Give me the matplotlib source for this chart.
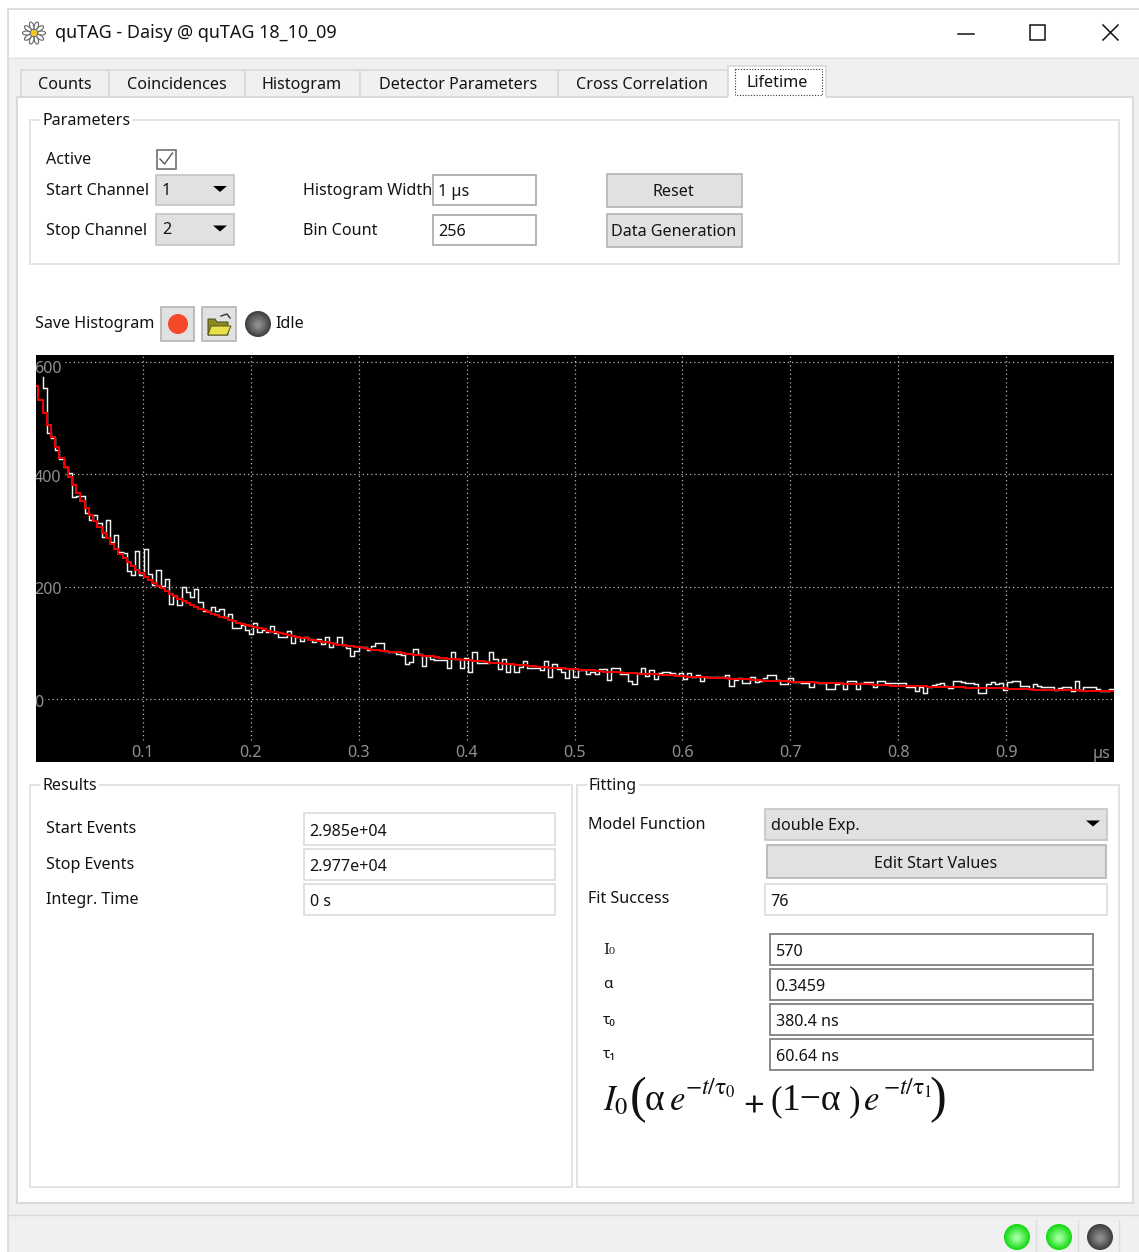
#!/usr/bin/env python3
# Lifetime tab of the quTAG window, redrawn in pixel coordinates
import numpy as np
import matplotlib
matplotlib.use('Agg')
import matplotlib.pyplot as plt
from matplotlib.patches import Rectangle, Circle, Polygon, Ellipse

W, H = 1139, 1252
UI_FONT = 'Noto Sans'
TEXT = '#141414'

# Data
# --------------
hist_counts = [
    574, 574, 553, 473, 464, 444, 428, 413, 403, 360, 362, 362, 332, 318, 328, 313,
    289, 319, 280, 293, 261, 260, 228, 221, 264, 221, 267, 222, 203, 230, 202, 213,
    170, 183, 167, 200, 190, 181, 196, 173, 157, 157, 164, 157, 161, 146, 152, 127,
    127, 132, 123, 116, 136, 120, 123, 120, 131, 117, 111, 110, 122, 99, 110, 104,
    110, 107, 101, 107, 98, 111, 93, 99, 111, 96, 91, 77, 86, 93, 93, 88,
    94, 99, 99, 85, 84, 83, 80, 78, 62, 66, 90, 80, 59, 76, 72, 69,
    69, 69, 56, 83, 71, 56, 74, 49, 83, 65, 65, 65, 83, 71, 53, 71,
    49, 62, 49, 58, 68, 55, 55, 55, 52, 68, 40, 62, 53, 49, 37, 53,
    39, 52, 52, 44, 49, 44, 53, 53, 34, 56, 56, 44, 44, 32, 26, 46,
    56, 41, 52, 35, 46, 48, 49, 47, 43, 46, 35, 46, 40, 43, 33, 39,
    39, 39, 39, 40, 43, 23, 34, 38, 29, 29, 39, 31, 33, 37, 42, 42,
    34, 27, 27, 37, 30, 30, 28, 28, 22, 30, 28, 28, 18, 18, 27, 28,
    18, 33, 33, 18, 28, 30, 30, 22, 33, 33, 28, 28, 28, 28, 28, 22,
    22, 15, 21, 10, 21, 25, 27, 28, 24, 19, 33, 33, 30, 28, 28, 26,
    10, 10, 26, 30, 27, 28, 16, 30, 33, 33, 24, 23, 18, 26, 24, 21,
    21, 21, 16, 19, 22, 22, 15, 33, 16, 22, 22, 21, 18, 15, 15, 18,
]
fit_counts = [
    557, 533, 510, 488, 467, 448, 430, 413, 396, 381, 367, 353, 340, 328, 317, 306,
    295, 286, 276, 268, 259, 252, 244, 237, 230, 224, 218, 212, 207, 201, 197, 192,
    187, 183, 179, 175, 171, 168, 164, 161, 158, 155, 152, 149, 146, 144, 141, 139,
    136, 134, 132, 130, 128, 126, 124, 122, 120, 119, 117, 115, 114, 112, 111, 109,
    108, 106, 105, 103, 102, 101, 100, 98, 97, 96, 95, 94, 93, 92, 91, 89,
    88, 87, 86, 85, 84, 83, 83, 82, 81, 80, 79, 78, 77, 76, 76, 75,
    74, 73, 72, 72, 71, 70, 69, 69, 68, 67, 67, 66, 65, 64, 64, 63,
    62, 62, 61, 60, 60, 59, 59, 58, 57, 57, 56, 56, 55, 55, 54, 53,
    53, 52, 52, 51, 51, 50, 50, 49, 49, 48, 48, 47, 47, 46, 46, 45,
    45, 44, 44, 44, 43, 43, 42, 42, 41, 41, 41, 40, 40, 39, 39, 39,
    38, 38, 37, 37, 37, 36, 36, 36, 35, 35, 34, 34, 34, 33, 33, 33,
    32, 32, 32, 31, 31, 31, 30, 30, 30, 29, 29, 29, 29, 28, 28, 28,
    27, 27, 27, 27, 26, 26, 26, 25, 25, 25, 25, 24, 24, 24, 24, 23,
    23, 23, 23, 23, 22, 22, 22, 22, 21, 21, 21, 21, 21, 20, 20, 20,
    20, 20, 19, 19, 19, 19, 19, 18, 18, 18, 18, 18, 18, 17, 17, 17,
    17, 17, 17, 16, 16, 16, 16, 16, 15, 15, 15, 15, 15, 15, 14, 14,
]
x_ticks = [0.1, 0.2, 0.3, 0.4, 0.5, 0.6, 0.7, 0.8, 0.9]
y_ticks = [0, 200, 400, 600]
tab_names = ['Counts', 'Coincidences', 'Histogram', 'Detector Parameters', 'Cross Correlation']
tab_edges = [21, 109, 245, 360, 558, 728]


# Helpers
# --------------
fig = plt.figure(figsize=(W / 100, H / 100), dpi=100, facecolor='white')
ui = fig.add_axes([0, 0, 1, 1])
ui.set_xlim(0, W)
ui.set_ylim(H, 0)
ui.axis('off')


def box(x0, y0, x1, y1, fc='white', ec='#dcdcdc', lw=1.0, **kw):
    ui.add_patch(Rectangle((x0, y0), x1 - x0, y1 - y0, fc=fc, ec=ec, lw=lw, **kw))


def label(x, y, s, ha='left', size=11.6, color=TEXT, family=UI_FONT, **kw):
    ui.text(x, y + 2, s, ha=ha, va='center', fontsize=size, color=color, family=family, **kw)


def group(x0, y0, x1, y1, title):
    box(x0, y0, x1, y1, fc='none', ec='#e3e3e3', lw=1.4)
    label(x0 + 12, y0 - 1, title, bbox=dict(fc='white', ec='none', pad=1.5))


def field(x0, y0, x1, y1, s, ec='#a8a8a8', lw=1.2):
    box(x0, y0, x1, y1, fc='white', ec=ec, lw=lw)
    label(x0 + 5.5, (y0 + y1) / 2 + 0.5, s)


def combo(x0, y0, x1, y1, s):
    box(x0, y0, x1, y1, fc='#e1e1e1', ec='#c4c4c4', lw=1.2)
    label(x0 + 6, (y0 + y1) / 2 - 1, s)
    ax_ = x1 - 14
    ay_ = (y0 + y1) / 2 - 1
    ui.add_patch(Polygon([(ax_ - 7, ay_ - 3), (ax_ + 7, ay_ - 3), (ax_, ay_ + 3)], fc='black', ec='none'))


def button(x0, y0, x1, y1, s=''):
    box(x0, y0, x1, y1, fc='#e1e1e1', ec='#b4b4b4', lw=1.2)
    if s:
        label((x0 + x1) / 2 - 1, (y0 + y1) / 2, s, ha='center')


def led(x, y, r, outer, inner):
    # shaded round lamp, built from stacked discs
    c0 = np.array(matplotlib.colors.to_rgb(outer))
    c1 = np.array(matplotlib.colors.to_rgb(inner))
    for k in np.linspace(0, 1, 14):
        ui.add_patch(Circle((x, y + k * 1), r * (1 - 0.8 * k), fc=c0 + (c1 - c0) * k, ec='none'))


def formula(x, y, s, size, **kw):
    ui.text(x, y, s, fontsize=size, color='#111111', math_fontfamily='stix', family='Liberation Serif',
            ha='left', va='baseline', **kw)


# Window
# --------------
box(8, 9, W + 5, H + 5, fc='#f0f0f0', ec='#d8d8d8', lw=1.2)
box(9, 10, W + 5, 57, fc='white', ec='none')
ui.plot([9, W], [57.5, 57.5], color='#e4e4e4', lw=1)
box(17, 97, 1133, 1203, fc='white', ec='#dadada', lw=1.4)

# title bar
for ang in np.arange(0, 360, 36):
    ux, uy = 34 + 7.5 * np.cos(np.radians(ang)), 33 + 7.5 * np.sin(np.radians(ang))
    ui.add_patch(Ellipse((ux, uy), 8, 4, angle=ang, fc='white', ec='#666666', lw=0.8))
ui.add_patch(Circle((34, 33), 3, fc='#f5c518', ec='none'))
label(55, 31.5, 'quTAG - Daisy @ quTAG 18_10_09', size=12.95)
ui.plot([958, 974], [33.5, 33.5], color='#111111', lw=1.1)
box(1030, 25, 1045, 39.5, fc='none', ec='#111111', lw=1.1)
ui.plot([1103, 1118], [25, 40], color='#111111', lw=1.1)
ui.plot([1103, 1118], [40, 25], color='#111111', lw=1.1)

# tabs
for i, name in enumerate(tab_names):
    box(tab_edges[i], 70, tab_edges[i + 1], 97, fc='#f0f0f0', ec='#d9d9d9', lw=1.2)
    label((tab_edges[i] + tab_edges[i + 1]) / 2 - 0.5, 83, name, ha='center')
box(728, 66, 826, 98, fc='white', ec='#d9d9d9', lw=1.2)
ui.plot([729, 825], [97.5, 97.5], color='white', lw=1.6)
box(735, 69, 822, 95, fc='none', ec='#333333', lw=0.8, ls=(0, (1, 1.5)))
label(777, 81, 'Lifetime', ha='center')

# parameters
group(30, 120, 1119, 264, 'Parameters')
label(46, 158, 'Active')
box(156.5, 149.5, 176, 168.5, fc='white', ec='#707070', lw=1.2)
ui.plot([160, 164.5, 172.5], [159, 164, 153], color='#555555', lw=1.0)
label(46, 189, 'Start Channel')
combo(156, 175, 234, 205, '1')
label(46, 229, 'Stop Channel')
combo(156, 214, 234, 245, '2')
label(303, 189, 'Histogram Width')
field(433, 175, 536, 205, '1 µs')
label(303, 229, 'Bin Count')
field(433, 215, 536, 245, '256')
button(607, 174, 742, 207, 'Reset')
button(607, 214, 742, 247, 'Data Generation')

# save row
label(35, 322, 'Save Histogram')
button(161, 307, 194, 341)
ui.add_patch(Circle((178, 324), 10, fc='#f4492b', ec='none'))
button(202, 307, 236, 341)
ui.add_patch(Polygon([(208, 319), (215, 319), (217, 322), (228, 322), (228, 335), (208, 335)], fc='#8c8c1e', ec='#444422', lw=0.7))
ui.add_patch(Polygon([(211, 326), (231, 326), (227, 335), (208, 335)], fc='#e6e04a', ec='#55551e', lw=0.7))
ui.plot([221, 227, 230], [316, 314, 318], color='#333333', lw=1.0)
led(258, 324, 13, '#3e3e3e', '#8c8c8c')
label(275, 322, 'Idle')

# results
group(30, 785, 572, 1187, 'Results')
label(46, 827, 'Start Events')
field(304, 813, 555, 845, '2.985e+04', ec='#dcdcdc')
label(46, 863, 'Stop Events')
field(304, 849, 555, 880, '2.977e+04', ec='#dcdcdc')
label(46, 898, 'Integr. Time')
field(304, 884, 555, 915, '0 s', ec='#dcdcdc')

# fitting
group(577, 785, 1119, 1187, 'Fitting')
label(588, 823, 'Model Function')
combo(765, 809, 1107, 840, 'double Exp.')
button(767, 845, 1106, 878, 'Edit Start Values')
label(588, 897, 'Fit Success')
field(765, 884, 1107, 915, '76', ec='#dcdcdc')
for y0, name, value, fam in [(934, 'I₀', '570', 'DejaVu Serif'), (969, 'α', '0.3459', UI_FONT),
                             (1004, 'τ₀', '380.4 ns', UI_FONT), (1039, 'τ₁', '60.64 ns', UI_FONT)]:
    label(603, y0 + 14, name, size=11, family=fam)
    field(770, y0, 1093, y0 + 31, value, ec='#8a8a8a', lw=1.4)

# fit model, placed piece by piece
formula(603, 1110, r'$I_0$', 25)
formula(630, 1112, '(', 36)
formula(645, 1110, 'α', 27)
formula(669, 1110, r'$e$', 25)
formula(685, 1095, r'$-t/\mathrm{\tau}_0$', 17)
formula(743, 1110, r'$\mathbf{+}$', 20)
formula(770, 1110, '(', 25)
formula(782, 1110, '1−α', 27)
formula(849, 1110, ')', 25)
formula(863, 1110, r'$e$', 25)
formula(883, 1095, r'$-t/\mathrm{\tau}_1$', 17)
formula(929, 1112, ')', 36)

# status bar
ui.plot([9, W], [1214.5, 1214.5], color='#d8d8d8', lw=1)
led(1017, 1237, 13, '#12d912', '#9cff9c')
led(1059, 1237, 13, '#12d912', '#9cff9c')
led(1100, 1237, 13, '#3e3e3e', '#8c8c8c')
for sx in (1035.5, 1077.5, 1118.5):
    ui.plot([sx, sx], [1220, H], color='#dddddd', lw=1)

# Histogram plot
# --------------
px_l, px_r, px_t, px_b = 36, 1114, 355, 762
plot = fig.add_axes([px_l / W, 1 - px_b / H, (px_r - px_l) / W, (px_b - px_t) / H], facecolor='black')
plot.set_xlim(0.0008, 1.0001)
plot.set_ylim(-112, 612.6)
plot.set_xticks([])
plot.set_yticks([])
for s in plot.spines.values():
    s.set_visible(False)

dots = (0, (1, 2.4))
plot.hlines(y_ticks, 0, 1.01, color='#b4b4b4', lw=0.9, linestyles=[dots], zorder=1)
plot.vlines(x_ticks, -73, 612.6, color='#b4b4b4', lw=0.9, linestyles=[dots], zorder=1)

edges = (np.arange(257) - 0.25) / 256
step_x = np.repeat(edges, 2)[1:-1]
# white trace only becomes visible at the third bin edge
plot.plot(step_x[3:], np.repeat(hist_counts, 2)[3:], color='#f2f2f2', lw=1.05, zorder=3, solid_joinstyle='miter')
plot.plot(step_x, np.repeat(fit_counts, 2), color='#f00000', lw=1.45, zorder=4, solid_joinstyle='miter')

for t in x_ticks:
    plot.annotate(f'{t:.1f}', (t, 0), xycoords=('data', 'axes fraction'), xytext=(0, 9), textcoords='offset pixels',
                  ha='center', va='center', color='#8f8f8f', fontsize=11.6, family=UI_FONT, zorder=5)
for t in y_ticks:
    plot.annotate(f'{t}', (0, t), xycoords=('axes fraction', 'data'), xytext=(-2, -7 if t == 600 else -3.5),
                  textcoords='offset pixels', ha='left', va='center', color='#8f8f8f', fontsize=11.6,
                  family=UI_FONT, zorder=2, annotation_clip=False, clip_on=True,
                  bbox=dict(fc='black', ec='none', pad=1.2))
plot.annotate('µs', (1, 0), xycoords='axes fraction', xytext=(-3, 8), textcoords='offset pixels',
              ha='right', va='center', color='#8f8f8f', fontsize=11.6, family=UI_FONT, zorder=5)

plt.savefig('out.png', dpi=100)
